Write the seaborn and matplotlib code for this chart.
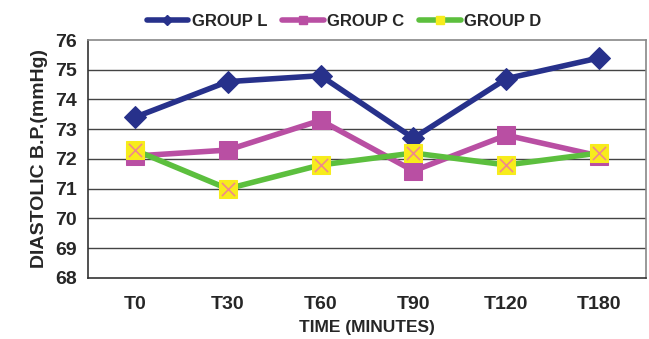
import pandas as pd
import matplotlib
matplotlib.use('Agg')
import matplotlib.pyplot as plt
import seaborn as sns
from matplotlib.lines import Line2D

times = ["T0", "T30", "T60", "T90", "T120", "T180"]
group_l = [73.4, 74.6, 74.8, 72.7, 74.7, 75.4]
group_c = [72.1, 72.3, 73.3, 71.6, 72.8, 72.1]
group_d = [72.3, 71.0, 71.8, 72.2, 71.8, 72.2]

sns.set_style("white")
plt.rcParams['font.family'] = ['Liberation Sans', 'DejaVu Sans']
plt.rcParams['font.weight'] = 'bold'

df = pd.DataFrame({
    "time": times * 3,
    "bp": group_l + group_c + group_d,
    "group": ["GROUP L"] * 6 + ["GROUP C"] * 6 + ["GROUP D"] * 6,
})
df["x"] = df["time"].map({t: i for i, t in enumerate(times)})

navy = "#27318b"
magenta = "#b94fa3"
green = "#5cbf3e"
yellow = "#f7ec1c"

fig = plt.figure(figsize=(6.49, 3.39), dpi=100)
ax = fig.add_axes([0.136, 0.180, 0.859, 0.702])

for yv in range(69, 76):
    ax.axhline(yv, color="#444444", lw=1.0, zorder=0)

l = df[df.group == "GROUP L"]
c = df[df.group == "GROUP C"]
d = df[df.group == "GROUP D"]

sns.lineplot(data=l, x="x", y="bp", ax=ax, color=navy, lw=4, marker="D",
             markersize=11, markeredgecolor=navy, zorder=3)
sns.lineplot(data=c, x="x", y="bp", ax=ax, color=magenta, lw=4, marker="s",
             markersize=13, markeredgecolor=magenta, zorder=4)
sns.lineplot(data=d, x="x", y="bp", ax=ax, color=green, lw=4, marker="s",
             markersize=13, markerfacecolor=yellow, markeredgecolor=yellow, zorder=5)
sns.scatterplot(data=d, x="x", y="bp", ax=ax, marker="x", s=90, color="#f08a8a",
                linewidth=1.2, zorder=6)

ax.set_xlim(-0.5, 5.5)
ax.set_ylim(68, 76)
ax.set_yticks(range(68, 77))
ax.set_yticklabels([str(v) for v in range(68, 77)], fontsize=14, fontweight="bold")
ax.set_xticks(range(6))
ax.set_xticklabels(times, fontsize=14, fontweight="bold")
ax.set_xticks([i - 0.5 for i in range(7)], minor=True)
ax.tick_params(axis="x", which="major", length=0, pad=13)
ax.tick_params(axis="x", which="minor", length=5, direction="out", color="#333333")
ax.tick_params(axis="y", length=5, direction="out", color="#333333", pad=3)

ax.set_xlabel("TIME (MINUTES)", fontsize=12.5, fontweight="bold", labelpad=5)
ax.set_ylabel("DIASTOLIC B.P.(mmHg)", fontsize=14, fontweight="bold", labelpad=5)

for side in ["top", "right"]:
    ax.spines[side].set_color("#888888")
    ax.spines[side].set_linewidth(1.2)
for side in ["left", "bottom"]:
    ax.spines[side].set_color("#333333")
    ax.spines[side].set_linewidth(1.2)

handles = [
    Line2D([], [], color=navy, lw=4, marker="D", markersize=5),
    Line2D([], [], color=magenta, lw=4, marker="s", markersize=6),
    Line2D([], [], color=green, lw=4, marker="s", markersize=6,
           markerfacecolor=yellow, markeredgecolor=yellow),
]
fig.legend(handles, ["GROUP L", "GROUP C", "GROUP D"], loc="center",
           bbox_to_anchor=(0.53, 0.937), ncol=3, frameon=False,
           prop={"size": 12, "weight": "bold"}, handlelength=2.5,
           handletextpad=0.2, columnspacing=0.9)

fig.savefig("out.png", dpi=100)
